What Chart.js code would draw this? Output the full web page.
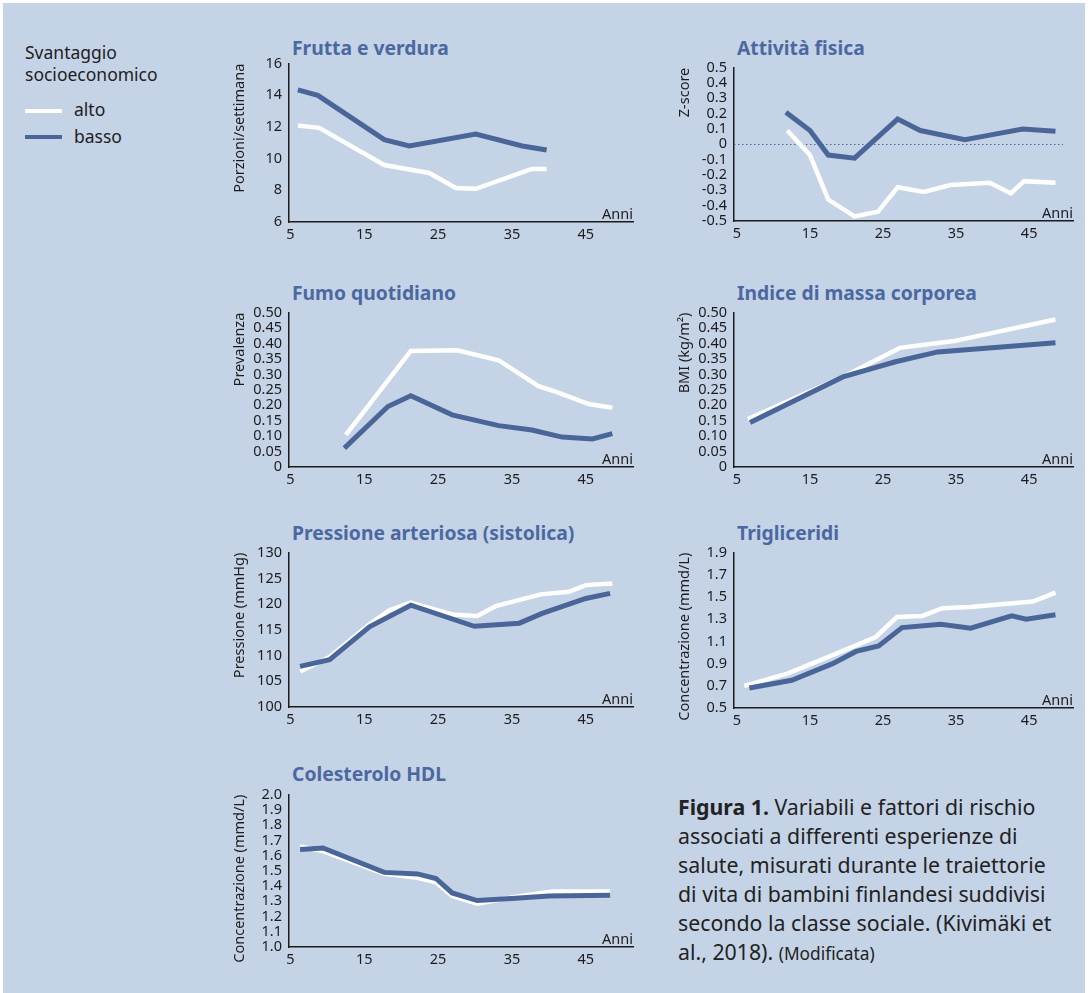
<!DOCTYPE html>
<html lang="it">
<head>
<meta charset="utf-8">
<title>Svantaggio socioeconomico e fattori di rischio</title>
<script src="https://cdn.jsdelivr.net/npm/chart.js@4.4.1/dist/chart.umd.min.js"></script>
<style>
  html, body { margin: 0; padding: 0; background: #ffffff; }
  #fig { position: relative; width: 1088px; height: 993px; overflow: hidden; background: #ffffff;
         font-family: "Noto Sans", "Open Sans", sans-serif; }
  #sfondo { position: absolute; left: 3px; top: 3px; width: 1082px; height: 990px; background: #c5d3e6; }
  canvas { position: absolute; }
  .titolo { position: absolute; font-weight: 700; font-size: 19.3px; line-height: 20px; color: #4b69a0; white-space: nowrap; }
  #legenda { position: absolute; left: 25px; top: 42px; font-size: 17.5px; line-height: 21.5px; color: #1e1e1e; white-space: nowrap; }
  .voce { position: absolute; left: 0; white-space: nowrap; font-size: 17.5px; line-height: 21.5px; color: #1e1e1e; }
  .segno { position: absolute; width: 37px; height: 4px; left: 0; }
  #didascalia { position: absolute; left: 678px; top: 793px; font-size: 21.3px; line-height: 28.9px; color: #222222; white-space: nowrap; }
  #didascalia b { font-weight: 700; }
  #didascalia small { font-size: 17.3px; }
</style>
</head>
<body>
<div id="fig">
  <div id="sfondo"></div>

  <div id="legenda">Svantaggio<br>socioeconomico</div>
  <div class="segno" style="left:25px; top:109px; background:#ffffff;"></div>
  <div class="voce" style="left:74px; top:98.5px;">alto</div>
  <div class="segno" style="left:25px; top:135px; background:#4a6699;"></div>
  <div class="voce" style="left:74px; top:125.5px;">basso</div>

  <div class="titolo" style="left:292px; top:37.5px;">Frutta e verdura</div>
  <div class="titolo" style="left:737px; top:37.5px;">Attività fisica</div>
  <div class="titolo" style="left:292px; top:282.5px;">Fumo quotidiano</div>
  <div class="titolo" style="left:737px; top:282.5px;">Indice di massa corporea</div>
  <div class="titolo" style="left:292px; top:523px;">Pressione arteriosa (sistolica)</div>
  <div class="titolo" style="left:737px; top:522.5px;">Trigliceridi</div>
  <div class="titolo" style="left:292px; top:764px;">Colesterolo HDL</div>

  <div id="didascalia"><b>Figura 1.</b> Variabili e fattori di rischio<br>associati a differenti esperienze di<br>salute, misurati durante le traiettorie<br>di vita di bambini finlandesi suddivisi<br>secondo la classe sociale. (Kivimäki et<br>al., 2018). <small>(Modificata)</small></div>
</div>

<script>
// Età (anni) sull'asse orizzontale, comune a tutti i pannelli
const anniTicks = [5, 15, 25, 35, 45];

// Frutta e verdura (porzioni/settimana) — coppie [anni, valore]
const fruttaAlto  = [[6, 12.1], [8.9, 11.95], [17.7, 9.6], [23.8, 9.1], [27.4, 8.15], [30.1, 8.1], [37.7, 9.35], [39.7, 9.35]];
const fruttaBasso = [[6, 14.35], [8.7, 14.0], [17.7, 11.2], [21.1, 10.8], [30.1, 11.55], [36.4, 10.8], [39.7, 10.55]];
const fruttaTicks = [6, 8, 10, 12, 14, 16];

// Attività fisica (Z-score)
const attivitaAlto  = [[11.9, 0.09], [15, -0.07], [17.5, -0.36], [21.1, -0.47], [24.3, -0.44], [27, -0.28], [30.6, -0.31], [34.2, -0.265], [39.6, -0.25], [42.5, -0.32], [44.3, -0.24], [48.6, -0.25]];
const attivitaBasso = [[11.7, 0.21], [15, 0.09], [17.5, -0.07], [21.1, -0.09], [27, 0.165], [30.1, 0.09], [36.2, 0.03], [39.6, 0.06], [44.1, 0.1], [48.6, 0.085]];
const attivitaTicks = [-0.5, -0.4, -0.3, -0.2, -0.1, 0, 0.1, 0.2, 0.3, 0.4, 0.5];

// Fumo quotidiano (prevalenza)
const fumoAlto  = [[12.5, 0.104], [21.3, 0.376], [27.6, 0.378], [33.2, 0.346], [38.6, 0.262], [40.9, 0.244], [45.4, 0.204], [48.6, 0.192]];
const fumoBasso = [[12.3, 0.061], [18.2, 0.196], [21.3, 0.231], [26.9, 0.169], [33.2, 0.134], [37.7, 0.12], [41.8, 0.097], [45.9, 0.091], [48.6, 0.108]];
const prevalenzaTicks = [0, 0.05, 0.10, 0.15, 0.20, 0.25, 0.30, 0.35, 0.40, 0.45, 0.50];

// Indice di massa corporea
const bmiAlto  = [[6.5, 0.155], [19.5, 0.292], [27.3, 0.386], [34.7, 0.408], [48.6, 0.478]];
const bmiBasso = [[6.8, 0.144], [19.5, 0.292], [26.7, 0.341], [32.5, 0.373], [48.6, 0.403]];

// Pressione arteriosa sistolica (mmHg)
const pressioneAlto  = [[6.3, 106.9], [10.3, 109.7], [15.7, 116.1], [18.4, 118.8], [21.3, 120.3], [26.9, 118.0], [30.3, 117.7], [32.8, 119.6], [38.9, 121.9], [42.7, 122.4], [45, 123.7], [48.6, 124.0]];
const pressioneBasso = [[6.3, 107.9], [10.3, 109.2], [15.7, 115.6], [21.3, 119.8], [29.9, 115.7], [36, 116.3], [39.1, 118.2], [45, 121.1], [48.3, 122.1]];
const pressioneTicks = [100, 105, 110, 115, 120, 125, 130];

// Trigliceridi (mmd/L)
const trigliceridiAlto  = [[6, 0.70], [11.9, 0.81], [18.6, 0.99], [24, 1.14], [26.9, 1.32], [30.4, 1.33], [33.1, 1.40], [36.9, 1.41], [45.5, 1.46], [48.6, 1.54]];
const trigliceridiBasso = [[6.7, 0.68], [12.5, 0.75], [18.1, 0.90], [21.3, 1.01], [24.4, 1.06], [27.6, 1.225], [32.9, 1.255], [37, 1.22], [42.6, 1.33], [44.6, 1.30], [48.6, 1.34]];
const trigliceridiTicks = [0.5, 0.7, 0.9, 1.1, 1.3, 1.5, 1.7, 1.9];

// Colesterolo HDL (mmd/L)
const hdlAlto  = [[6.3, 1.66], [9.4, 1.63], [17.7, 1.48], [22.2, 1.455], [24.7, 1.425], [26.9, 1.335], [30.3, 1.285], [35.5, 1.33], [40.5, 1.365], [48.3, 1.365]];
const hdlBasso = [[6.3, 1.64], [9.4, 1.65], [17.7, 1.49], [22.2, 1.48], [24.7, 1.45], [26.9, 1.355], [30.3, 1.305], [35.5, 1.32], [40, 1.335], [48.3, 1.34]];
const hdlTicks = [1.0, 1.1, 1.2, 1.3, 1.4, 1.5, 1.6, 1.7, 1.8, 1.9, 2.0];

const BLU = '#4a6699';
const BIANCO = '#ffffff';
const TESTO = '#1c1c1c';
const FONT = '"Noto Sans", "Open Sans", sans-serif';

const toPts = arr => arr.map(([x, y]) => ({ x, y }));

// Etichetta "Anni" in fondo a destra dell'asse orizzontale
const anniLabel = {
  id: 'anniLabel',
  afterDraw(chart) {
    const { ctx, chartArea } = chart;
    ctx.save();
    ctx.fillStyle = TESTO;
    ctx.font = '14.5px ' + FONT;
    ctx.textAlign = 'right';
    ctx.textBaseline = 'alphabetic';
    ctx.fillText('Anni', chartArea.right, chartArea.bottom - 3);
    ctx.restore();
  }
};

// Linea tratteggiata sullo zero (solo per l'attività fisica)
const lineaZero = {
  id: 'lineaZero',
  beforeDatasetsDraw(chart) {
    const { ctx, chartArea, scales } = chart;
    const y = Math.round(scales.y.getPixelForValue(0)) + 0.5;
    ctx.save();
    ctx.strokeStyle = BLU;
    ctx.lineWidth = 1;
    ctx.setLineDash([1.5, 2.5]);
    ctx.beginPath();
    ctx.moveTo(chartArea.left, y);
    ctx.lineTo(chartArea.right - 10, y);
    ctx.stroke();
    ctx.restore();
  }
};

const fig = document.getElementById('fig');

// Distanza fra il bordo superiore della tela e l'inizio dell'area dati
const MARGINE_ALTO = 15;

function pannello(p) {
  const c = document.createElement('canvas');
  const top = p.plotTop - MARGINE_ALTO;
  c.width = p.w;
  c.height = p.plotBottom - top + 25;
  c.style.left = p.left + 'px';
  c.style.top = top + 'px';
  fig.appendChild(c);

  new Chart(c, {
    type: 'line',
    data: {
      datasets: [
        { label: 'basso', data: toPts(p.basso), borderColor: BLU, borderWidth: 5 },
        { label: 'alto', data: toPts(p.alto), borderColor: BIANCO, borderWidth: 4.5 }
      ]
    },
    options: {
      responsive: false,
      animation: false,
      devicePixelRatio: 1,
      layout: { padding: { top: 0, right: p.padRight, left: 0, bottom: 0 } },
      plugins: { legend: { display: false }, tooltip: { enabled: false } },
      elements: {
        point: { radius: 0, hoverRadius: 0 },
        line: { tension: 0, fill: false, borderCapStyle: 'butt', borderJoinStyle: 'miter' }
      },
      scales: {
        x: {
          type: 'linear',
          min: p.xmin,
          max: p.xmax,
          grid: { display: false, drawTicks: false },
          border: { display: true, color: TESTO, width: 1.5 },
          ticks: { color: TESTO, font: { family: FONT, size: 14.5 }, padding: 4, maxRotation: 0, autoSkip: false },
          afterBuildTicks: s => { s.ticks = anniTicks.map(v => ({ value: v })); },
          afterFit: s => { s.height = 25; }
        },
        y: {
          type: 'linear',
          min: p.yTicks[0],
          max: p.yTicks[p.yTicks.length - 1],
          grid: { display: false, drawTicks: false },
          border: { display: true, color: TESTO, width: 1.5 },
          ticks: { color: TESTO, font: { family: FONT, size: 14.5 }, padding: 7, autoSkip: false, callback: p.fmt },
          afterBuildTicks: s => { s.ticks = p.yTicks.map(v => ({ value: v })); },
          afterFit: s => { s.width = 64; },
          title: {
            display: true, text: p.yTitle, align: 'end', color: TESTO,
            font: { family: FONT, size: 14.5 }, padding: { top: 6, bottom: 0 }
          }
        }
      }
    },
    plugins: p.zero ? [anniLabel, lineaZero] : [anniLabel]
  });
}

const intero = v => String(v);
const unDecimale = v => (Math.abs(v) < 1e-9 ? '0' : v.toFixed(1));
const dueDecimali = v => (Math.abs(v) < 1e-9 ? '0' : v.toFixed(2));
const unDecimaleFisso = v => v.toFixed(1);

// colonna sinistra: asse y a x=289, fine asse x a 633
const SX = { left: 225, w: 420, padRight: 12, xmin: 4.8, xmax: 51.4 };
// colonna destra: asse y a x=734, fine asse x a 1073
const DX = { left: 670, w: 420, padRight: 17, xmin: 4.6, xmax: 51.0 };

pannello({ ...SX, plotTop: 63, plotBottom: 222, alto: fruttaAlto, basso: fruttaBasso, yTicks: fruttaTicks, fmt: intero, yTitle: 'Porzioni/settimana' });
pannello({ ...DX, plotTop: 67, plotBottom: 221, alto: attivitaAlto, basso: attivitaBasso, yTicks: attivitaTicks, fmt: unDecimale, yTitle: 'Z-score', zero: true });
pannello({ ...SX, plotTop: 312, plotBottom: 467, alto: fumoAlto, basso: fumoBasso, yTicks: prevalenzaTicks, fmt: dueDecimali, yTitle: 'Prevalenza' });
pannello({ ...DX, plotTop: 312, plotBottom: 467, alto: bmiAlto, basso: bmiBasso, yTicks: prevalenzaTicks, fmt: dueDecimali, yTitle: 'BMI (kg/m²)' });
pannello({ ...SX, plotTop: 552, plotBottom: 707, alto: pressioneAlto, basso: pressioneBasso, yTicks: pressioneTicks, fmt: intero, yTitle: 'Pressione (mmHg)' });
pannello({ ...DX, plotTop: 552, plotBottom: 708, alto: trigliceridiAlto, basso: trigliceridiBasso, yTicks: trigliceridiTicks, fmt: unDecimaleFisso, yTitle: 'Concentrazione (mmd/L)' });
pannello({ ...SX, plotTop: 794, plotBottom: 947, alto: hdlAlto, basso: hdlBasso, yTicks: hdlTicks, fmt: unDecimaleFisso, yTitle: 'Concentrazione (mmd/L)' });
</script>
</body>
</html>
